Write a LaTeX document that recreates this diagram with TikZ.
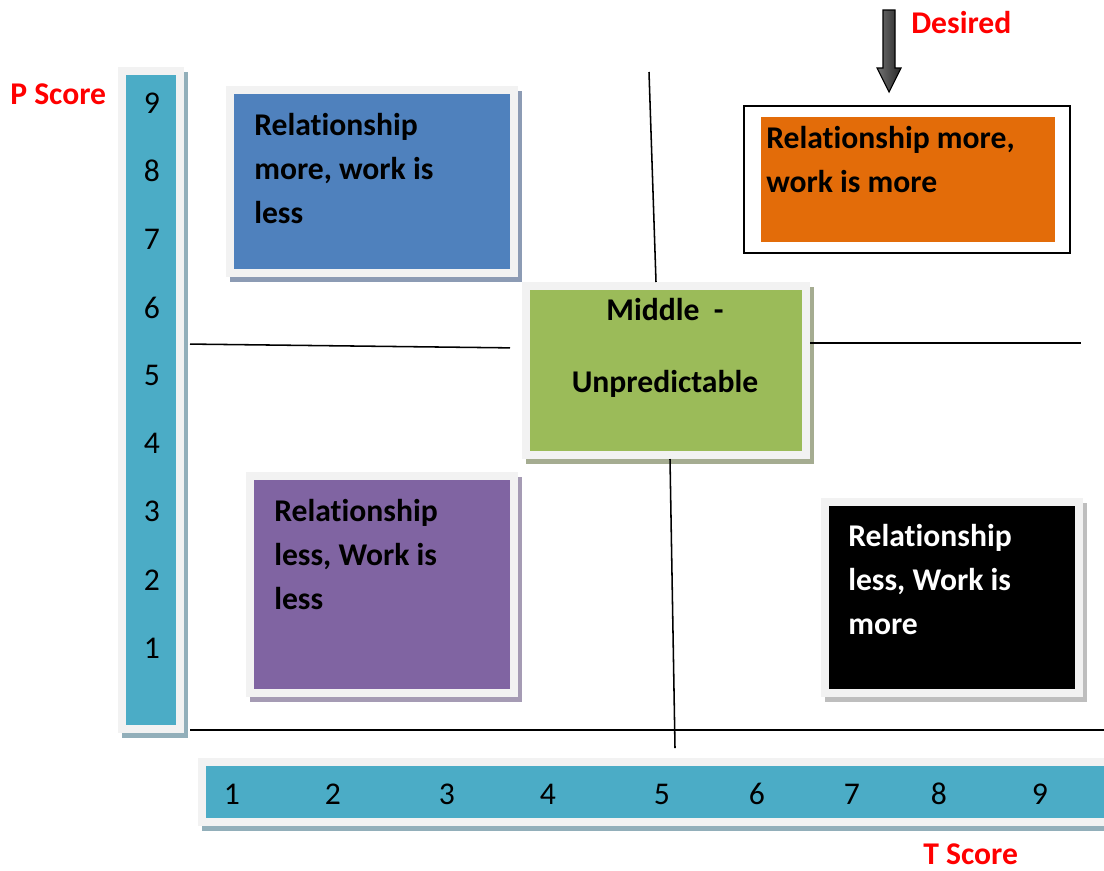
\documentclass[tikz,border=0pt]{standalone}
\usepackage{fontspec}
\setmainfont{Carlito}[Ligatures=NoCommon]
\usetikzlibrary{calc}

\tikzset{
    quad/.style={fill=#1q, draw=framegray, line width=0.2cm, inner sep=0pt,
      preaction={fill=#1shadow, draw=#1shadow, line width=0.2cm,
        transform canvas={xshift=0.1cm, yshift=-0.125cm}}},
    qtext/.style={font=\fontsize{22.5}{31.3}\selectfont\bfseries, align=left, anchor=north west, inner sep=0pt},
    num/.style={font=\fontsize{22.5}{27}\selectfont, inner sep=0pt},
    score/.style={font=\fontsize{22.5}{27}\selectfont\bfseries, text=scorered, anchor=base west, inner sep=0pt},
    divider/.style={line width=1.1pt}
}

\begin{document}
\begin{tikzpicture}[x=0.025cm, y=-0.025cm]
        % Colours of the quadrants
        \definecolor{blueq}{RGB}{79,129,189}
        \definecolor{orangeq}{RGB}{227,108,9}
        \definecolor{greenq}{RGB}{155,187,89}
        \definecolor{purpleq}{RGB}{128,100,162}
        \definecolor{blackq}{RGB}{0,0,0}
        \definecolor{tealq}{RGB}{75,172,198}
        \definecolor{framegray}{RGB}{242,242,242}
        \definecolor{blueshadow}{RGB}{140,155,180}
        \definecolor{greenshadow}{RGB}{165,172,145}
        \definecolor{purpleshadow}{RGB}{165,155,180}
        \definecolor{blackshadow}{RGB}{190,190,190}
        \definecolor{tealshadow}{RGB}{146,175,186}
        \definecolor{scorered}{RGB}{255,0,0}

        % One pixel of the page
        \def\pix{0.025cm}

        \useasboundingbox (0,0) rectangle (1104,870);
        \clip (0,0) rectangle (1104,870);

        % Score bars
        \node[quad=teal, minimum width=58*\pix, minimum height=658*\pix] (pbar) at (151,400) {};
        \node[quad=teal, minimum width=914*\pix, minimum height=60*\pix] (tbar) at (659,792) {};
        \foreach \n in {1,...,9}
            \node[num] (p\n) at (152, 716.1-68.1*\n) {\n};
        \foreach \n/\xx in {1/232, 2/333, 3/447, 4/548, 5/662, 6/757, 7/852, 8/939, 9/1040}
            \node[num] (t\n) at (\xx,794) {\n};

        % Quadrant boxes
        \node[quad=blue, minimum width=284*\pix, minimum height=183*\pix] (rmwl) at (372,181.5) {};
        \node[quad=purple, minimum width=264*\pix, minimum height=217*\pix] (rlwl) at (382,584.5) {};
        \node[quad=black, minimum width=254*\pix, minimum height=191*\pix] (rlwm) at (952,597.5) {};
        \node[quad=green, minimum width=280*\pix, minimum height=169*\pix] (mid) at (666,370.5) {};
        \node[draw, line width=1.2pt, inner sep=0pt, minimum width=326*\pix, minimum height=147*\pix] (rmwm-frame) at (907,179.5) {};
        \node[fill=orangeq, inner sep=0pt, minimum width=294*\pix, minimum height=125*\pix] (rmwm) at (908,179.5) {};

        % Box texts
        \node[qtext] (rmwl-txt) at (254,113) {Relationship\\more, work is\\less};
        \node[qtext] (rmwm-txt) at (766,126) {Relationship more,\\work is more};
        \node[qtext] (rlwl-txt) at (274,499) {Relationship\\less, Work is\\less};
        \node[qtext, text=white] (rlwm-txt) at (848,524) {Relationship\\less, Work is\\more};
        \node[font=\fontsize{22.5}{51.2}\selectfont\bfseries, align=center, anchor=north, inner sep=0pt] (mid-txt) at (665,298) {Middle~~-\\Unpredictable};

        % Dividing lines
        \coordinate (vtop) at (649,72);
        \coordinate (vbot) at (675,748);
        \coordinate (hright) at (1081,343);
        \coordinate (hbase) at (1104,730);
        \draw[divider] (vtop) -- ($(mid.north)+(-10,0)$);
        \draw[divider] ($(mid.south)+(4,0)$) -- (vbot);
        \draw[divider, shorten <=0.15cm, shorten >=0.3cm] (pbar.east |- 0,344) -- (mid.west |- 0,348);
        \draw[divider] (mid.east |- 0,343) -- (hright);
        \draw[divider, shorten <=0.15cm] (pbar.east |- 0,730) -- (hbase);

        % Desired marker
        \draw[left color=black!55, right color=black!85, draw=black, line width=0.8pt]
            (883,10) -- (895,10) -- (895,68) -- (901,68) -- (889,92) -- (877,68) -- (883,68) -- cycle;

        % Axis names
        \node[score] (pscore) at (10,104) {P Score};
        \node[score] (tscore) at (923,864) {T Score};
        \node[score] (desired) at (911,33) {Desired};
    \end{tikzpicture}
\end{document}
